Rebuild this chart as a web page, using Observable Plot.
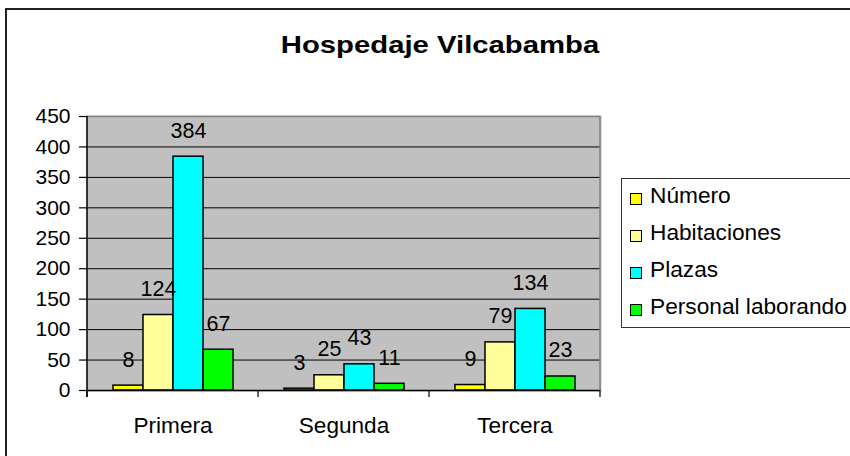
<!DOCTYPE html>
<html>
<head>
<meta charset="utf-8">
<script src="https://cdn.jsdelivr.net/npm/d3@7"></script>
<script src="https://cdn.jsdelivr.net/npm/@observablehq/plot@0.6"></script>
<style>
  html, body { margin: 0; padding: 0; background: #fff; }
  body { width: 850px; height: 456px; overflow: hidden; position: relative; font-family: "Liberation Sans", Arial, sans-serif; }
  #frame { position: absolute; left: 5px; top: 8px; width: 900px; height: 500px; border-left: 2px solid #222; border-top: 2px solid #222; box-sizing: border-box; }
  #chart { position: absolute; left: 0; top: 0; }
  #title { position: absolute; left: 0; top: 33px; width: 880px; text-align: center; font-weight: bold; font-size: 24px; line-height: 24px; transform: scaleX(1.22); transform-origin: 440px 0; color: #000; }
  #legend { position: absolute; left: 621px; top: 178px; width: 320px; height: 150px; border: 1px solid #333; box-sizing: border-box; background: #fff; }
  .row { position: absolute; left: 0; height: 37px; width: 300px; }
  .sw { position: absolute; left: 8px; top: 16px; width: 10px; height: 10px; border: 1px solid #000; }
  .lbl { position: absolute; left: 28px; top: 0; font-size: 22.7px; line-height: 37px; color: #000; white-space: nowrap; }
</style>
</head>
<body>
<div id="frame"></div>
<div id="chart"></div>
<div id="title">Hospedaje Vilcabamba</div>
<div id="legend"></div>
<script>
const titulo = "Hospedaje Vilcabamba";
const categorias = ["Primera", "Segunda", "Tercera"];
const series = ["Número", "Habitaciones", "Plazas", "Personal laborando"];
const numero = [8, 3, 9];
const habitaciones = [124, 25, 79];
const plazas = [384, 43, 134];
const personal = [67, 11, 23];
const colores = ["#ffff00", "#ffff99", "#00ffff", "#00ff00"];
const yTicks = [0, 50, 100, 150, 200, 250, 300, 350, 400, 450];

const valores = [numero, habitaciones, plazas, personal];
const datos = [];
categorias.forEach((c, ci) => {
  series.forEach((s, si) => {
    datos.push({categoria: c, serie: s, valor: valores[si][ci]});
  });
});

const plot = Plot.plot({
  width: 610,
  height: 456,
  marginTop: 116,
  marginBottom: 66,
  marginLeft: 86,
  marginRight: 9,
  style: {fontFamily: "'Liberation Sans', Arial, sans-serif", fontSize: "21px", background: "transparent", overflow: "visible", color: "#000"},
  fx: {domain: categorias, padding: 0},
  x: {domain: series, paddingInner: 0, paddingOuter: 0.763, axis: null},
  y: {domain: [0, 450]},
  color: {domain: series, range: colores},
  marks: [
    Plot.frame({fill: "#c0c0c0", stroke: "#c0c0c0", strokeWidth: 2}),
    Plot.gridY(yTicks, {stroke: "#000", strokeOpacity: 1, strokeWidth: 1}),
    Plot.ruleY([450], {stroke: "#808080", strokeWidth: 1.5}),
    Plot.barY(datos, {fx: "categoria", x: "serie", y: "valor", fill: "serie", stroke: "#000", strokeWidth: 1.5}),
    Plot.text(datos, {fx: "categoria", x: "serie", y: "valor", text: d => String(d.valor), lineAnchor: "bottom", dy: -19, fontSize: 21.5, fill: "#000"}),
    Plot.ruleY([0], {stroke: "#000", strokeWidth: 1.5}),
    Plot.axisY({ticks: yTicks, tickSize: 8, tickPadding: 9, fontSize: 21, label: null, stroke: "#000", strokeWidth: 1.2}),
    Plot.axisFx({anchor: "bottom", tickSize: 0, tickPadding: 26, fontSize: 22.6, label: null})
  ]
});
document.getElementById("chart").appendChild(plot);

// Axis lines, outer border and category boundary ticks from Plot's own scales
const fx = plot.scale("fx");
const ys = plot.scale("y");
const bordes = categorias.map(c => fx.apply(c));
bordes.push(fx.apply(categorias[categorias.length - 1]) + fx.bandwidth);
const y0 = ys.apply(0), yTop = ys.apply(450);
const svg = d3.select(plot);
svg.append("line")
  .attr("x1", bordes[bordes.length - 1]).attr("x2", bordes[bordes.length - 1])
  .attr("y1", yTop).attr("y2", y0)
  .attr("stroke", "#808080").attr("stroke-width", 1.5);
svg.append("line")
  .attr("x1", bordes[0]).attr("x2", bordes[0])
  .attr("y1", yTop).attr("y2", y0 + 7)
  .attr("stroke", "#000").attr("stroke-width", 1.5);
bordes.forEach(b => {
  svg.append("line")
    .attr("x1", b).attr("x2", b)
    .attr("y1", y0).attr("y2", y0 + 7)
    .attr("stroke", "#000").attr("stroke-width", 1.2);
});

// Legend built from the plot's color scale
const color = plot.scale("color");
const legend = d3.select("#legend");
series.forEach((s, i) => {
  const row = legend.append("div").attr("class", "row").style("top", (-2 + 37 * i) + "px");
  row.append("div").attr("class", "sw").style("background", color.apply(s));
  row.append("div").attr("class", "lbl").text(s);
});
</script>
</body>
</html>
